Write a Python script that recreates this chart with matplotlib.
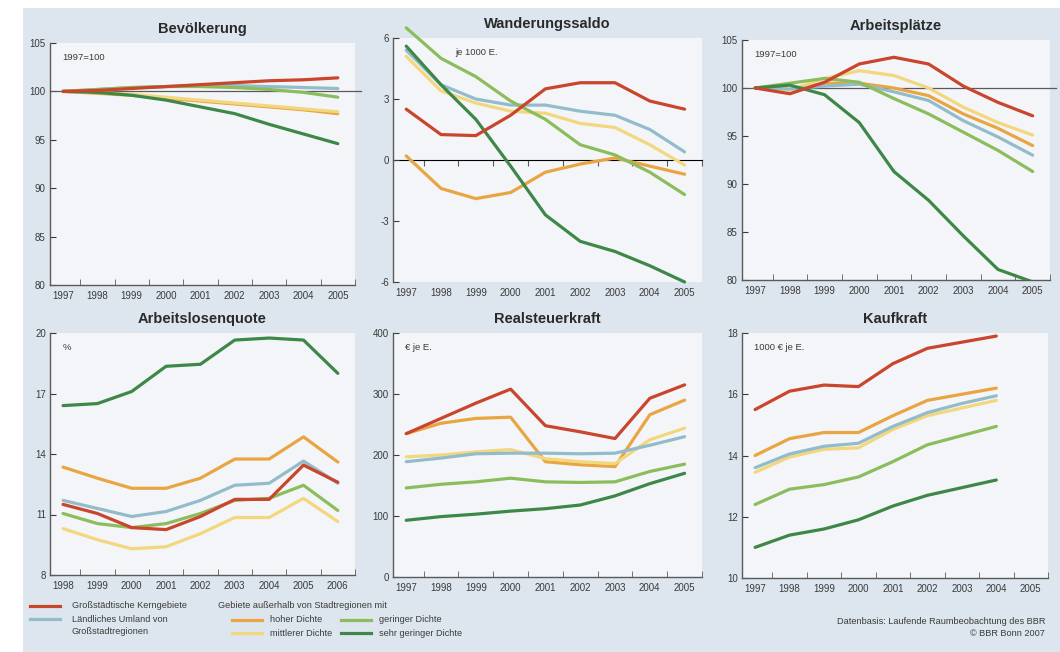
import matplotlib.pyplot as plt
from matplotlib.patches import Rectangle
import numpy as np

plt.rcParams['font.family'] = ['Liberation Sans', 'DejaVu Sans']
plt.rcParams['axes.unicode_minus'] = False

years_a = ['1997', '1998', '1999', '2000', '2001', '2002', '2003', '2004', '2005']
years_b = ['1998', '1999', '2000', '2001', '2002', '2003', '2004', '2005', '2006']

series_names = ['Großstädtische Kerngebiete', 'Ländliches Umland von\nGroßstadtregionen',
                'hoher Dichte', 'mittlerer Dichte', 'geringer Dichte', 'sehr geringer Dichte']
colors = ['#c9452c', '#93bccb', '#e9a542', '#f3d77e', '#8cbd5c', '#3d8748']

# Bevölkerung (1997=100)
bev_red = [100, 100.1, 100.3, 100.5, 100.7, 100.9, 101.1, 101.2, 101.4]
bev_blue = [100, 100.2, 100.4, 100.5, 100.6, 100.6, 100.5, 100.4, 100.3]
bev_hoch = [100, 99.8, 99.6, 99.3, 99.0, 98.7, 98.4, 98.1, 97.7]
bev_mittel = [100, 99.9, 99.7, 99.4, 99.1, 98.8, 98.5, 98.2, 97.9]
bev_gering = [100, 100.2, 100.4, 100.5, 100.5, 100.4, 100.2, 99.9, 99.4]
bev_sgering = [100, 99.9, 99.6, 99.1, 98.4, 97.7, 96.6, 95.6, 94.6]

# Wanderungssaldo (je 1000 E.)
wan_red = [2.5, 1.25, 1.2, 2.2, 3.5, 3.8, 3.8, 2.9, 2.5]
wan_blue = [5.4, 3.7, 3.0, 2.7, 2.7, 2.4, 2.2, 1.5, 0.4]
wan_hoch = [0.2, -1.4, -1.9, -1.6, -0.6, -0.2, 0.1, -0.3, -0.7]
wan_mittel = [5.1, 3.4, 2.8, 2.4, 2.3, 1.8, 1.6, 0.75, -0.25]
wan_gering = [6.5, 5.0, 4.1, 2.9, 2.0, 0.75, 0.25, -0.6, -1.7]
wan_sgering = [5.6, 3.7, 2.0, -0.3, -2.7, -4.0, -4.5, -5.2, -6.0]

# Arbeitsplätze (1997=100)
arb_red = [100, 99.4, 100.6, 102.5, 103.2, 102.5, 100.2, 98.5, 97.1]
arb_blue = [100, 99.9, 100.2, 100.4, 99.6, 98.7, 96.6, 94.9, 93.0]
arb_hoch = [100, 99.8, 100.5, 100.5, 100.0, 99.2, 97.3, 95.8, 94.0]
arb_mittel = [100, 99.8, 101.0, 101.8, 101.3, 100.0, 98.0, 96.4, 95.1]
arb_gering = [100, 100.5, 101.0, 100.6, 98.9, 97.3, 95.4, 93.5, 91.3]
arb_sgering = [100, 100.3, 99.3, 96.4, 91.3, 88.3, 84.6, 81.1, 79.8]

# Arbeitslosenquote (%)
alq_red = [11.5, 11.05, 10.35, 10.25, 10.9, 11.75, 11.75, 13.45, 12.6]
alq_blue = [11.7, 11.3, 10.9, 11.15, 11.7, 12.45, 12.55, 13.65, 12.55]
alq_hoch = [13.35, 12.8, 12.3, 12.3, 12.8, 13.75, 13.75, 14.85, 13.6]
alq_mittel = [10.3, 9.75, 9.3, 9.4, 10.05, 10.85, 10.85, 11.8, 10.65]
alq_gering = [11.05, 10.55, 10.35, 10.55, 11.05, 11.7, 11.8, 12.45, 11.2]
alq_sgering = [16.4, 16.5, 17.1, 18.35, 18.45, 19.65, 19.75, 19.65, 18.0]

# Realsteuerkraft (€ je E.)
rsk_red = [235, 260, 285, 308, 248, 238, 227, 293, 315]
rsk_blue = [189, 195, 202, 203, 203, 202, 203, 216, 230]
rsk_hoch = [235, 252, 260, 262, 189, 184, 181, 266, 290]
rsk_mittel = [197, 200, 205, 209, 194, 189, 186, 225, 244]
rsk_gering = [146, 152, 156, 162, 156, 155, 156, 173, 185]
rsk_sgering = [93, 99, 103, 108, 112, 118, 133, 153, 170]

# Kaufkraft (1000 € je E.), bis 2004
kk_red = [15.5, 16.1, 16.3, 16.25, 17.0, 17.5, 17.7, 17.9]
kk_blue = [13.6, 14.05, 14.3, 14.4, 14.95, 15.4, 15.7, 15.95]
kk_hoch = [14.0, 14.55, 14.75, 14.75, 15.3, 15.8, 16.0, 16.2]
kk_mittel = [13.45, 13.95, 14.2, 14.25, 14.85, 15.3, 15.55, 15.8]
kk_gering = [12.4, 12.9, 13.05, 13.3, 13.8, 14.35, 14.65, 14.95]
kk_sgering = [11.0, 11.4, 11.6, 11.9, 12.35, 12.7, 12.95, 13.2]

W, H = 1060, 652
fig = plt.figure(figsize=(W / 100, H / 100), dpi=100, facecolor='white')
bg = '#dde6ef'
fig.patches.append(Rectangle((23 / W, 0), 1 - 23 / W, 1 - 8 / H, transform=fig.transFigure,
                             facecolor=bg, edgecolor='none', zorder=-10))

txt_col = '#3a3a3a'
axis_col = '#5a5a5a'


def make_ax(l, r, t, b):
    ax = fig.add_axes([l / W, 1 - b / H, (r - l) / W, (b - t) / H])
    ax.set_facecolor('#f4f5f9')
    for s in ['top', 'right']:
        ax.spines[s].set_visible(False)
    for s in ['left', 'bottom']:
        ax.spines[s].set_color(axis_col)
        ax.spines[s].set_linewidth(1.0)
    return ax


def style_ax(ax, title, labels, ylim, yticks, note, hide_bottom=False, note_x=0.04):
    ax.set_xlim(-0.38, 8.5)
    ax.set_ylim(*ylim)
    ax.set_xticks(range(len(labels)))
    ax.set_xticklabels(labels)
    ax.set_xticks(np.arange(0.5, 9, 1.0), minor=True)
    ax.tick_params(axis='x', which='major', length=0, labelsize=7, colors=txt_col, pad=4)
    ax.tick_params(axis='x', which='minor', length=4, direction='in', color=axis_col,
                   bottom=not hide_bottom)
    ax.set_yticks(yticks)
    ax.tick_params(axis='y', length=4, direction='in', labelsize=7, colors=txt_col, pad=3)
    ax.set_title(title, fontsize=10.5, fontweight='bold', color='#2a2a2a', pad=7)
    ax.text(note_x, 0.96, note, transform=ax.transAxes, fontsize=6.8, color=txt_col,
            va='top', ha='left')


def draw(ax, data, clip=True):
    order = [2, 3, 1, 4, 5, 0]
    for i in order:
        vals = data[i]
        ax.plot(range(len(vals)), vals, color=colors[i], lw=2.3, solid_capstyle='round',
                solid_joinstyle='round', zorder=3 + (i == 0), clip_on=clip)


# Bevölkerung
ax1 = make_ax(50, 355, 43, 285)
ax1.axhline(100, color=axis_col, lw=0.9, zorder=2, clip_on=False, xmax=1.02)
draw(ax1, [bev_red, bev_blue, bev_hoch, bev_mittel, bev_gering, bev_sgering])
style_ax(ax1, 'Bevölkerung', years_a, (80, 105), [80, 85, 90, 95, 100, 105], '1997=100')

# Wanderungssaldo
ax2 = make_ax(393, 702, 38, 282)
ax2.spines['bottom'].set_visible(False)
sec = ax2.secondary_xaxis(0.5)
sec.spines['bottom'].set_color(axis_col)
sec.spines['bottom'].set_linewidth(1.0)
sec.set_xticks(np.arange(0.5, 9, 1.0))
sec.set_xticklabels([])
sec.tick_params(axis='x', length=4, direction='in', color=axis_col)
draw(ax2, [wan_red, wan_blue, wan_hoch, wan_mittel, wan_gering, wan_sgering], clip=False)
style_ax(ax2, 'Wanderungssaldo', years_a, (-6, 6), [-6, -3, 0, 3, 6], 'je 1000 E.',
         hide_bottom=True, note_x=0.2)

# Arbeitsplätze
ax3 = make_ax(742, 1050, 40, 280)
ax3.axhline(100, color=axis_col, lw=0.9, zorder=2, clip_on=False, xmax=1.02)
draw(ax3, [arb_red, arb_blue, arb_hoch, arb_mittel, arb_gering, arb_sgering])
style_ax(ax3, 'Arbeitsplätze', years_a, (80, 105), [80, 85, 90, 95, 100, 105], '1997=100')

# Arbeitslosenquote
ax4 = make_ax(50, 355, 333, 575)
draw(ax4, [alq_red, alq_blue, alq_hoch, alq_mittel, alq_gering, alq_sgering])
style_ax(ax4, 'Arbeitslosenquote', years_b, (8, 20), [8, 11, 14, 17, 20], '%')

# Realsteuerkraft
ax5 = make_ax(393, 702, 333, 577)
draw(ax5, [rsk_red, rsk_blue, rsk_hoch, rsk_mittel, rsk_gering, rsk_sgering])
style_ax(ax5, 'Realsteuerkraft', years_a, (0, 400), [0, 100, 200, 300, 400], '€ je E.')

# Kaufkraft
ax6 = make_ax(742, 1048, 333, 578)
draw(ax6, [kk_red, kk_blue, kk_hoch, kk_mittel, kk_gering, kk_sgering])
style_ax(ax6, 'Kaufkraft', years_a, (10, 18), [10, 12, 14, 16, 18], '1000 € je E.')

# legend
def leg_line(x0, y, col):
    fig.add_artist(plt.Line2D([x0 / W, (x0 + 30) / W], [1 - y / H, 1 - y / H],
                              color=col, lw=2.3, transform=fig.transFigure))


def leg_text(x, y, s, ha='left'):
    fig.text(x / W, 1 - y / H, s, fontsize=6.6, color=txt_col, ha=ha, va='center')


leg_line(30, 606, colors[0])
leg_text(72, 606, series_names[0])
leg_line(30, 619, colors[1])
leg_text(72, 619, 'Ländliches Umland von')
leg_text(72, 632, 'Großstadtregionen')
leg_text(218, 606, 'Gebiete außerhalb von Stadtregionen mit')
leg_line(232, 620, colors[2])
leg_text(270, 620, series_names[2])
leg_line(232, 633, colors[3])
leg_text(270, 633, series_names[3])
leg_line(341, 620, colors[4])
leg_text(379, 620, series_names[4])
leg_line(341, 633, colors[5])
leg_text(379, 633, series_names[5])
leg_text(1045, 621, 'Datenbasis: Laufende Raumbeobachtung des BBR', ha='right')
leg_text(1045, 634, '© BBR Bonn 2007', ha='right')

fig.savefig('out.png', dpi=100, facecolor=fig.get_facecolor())
